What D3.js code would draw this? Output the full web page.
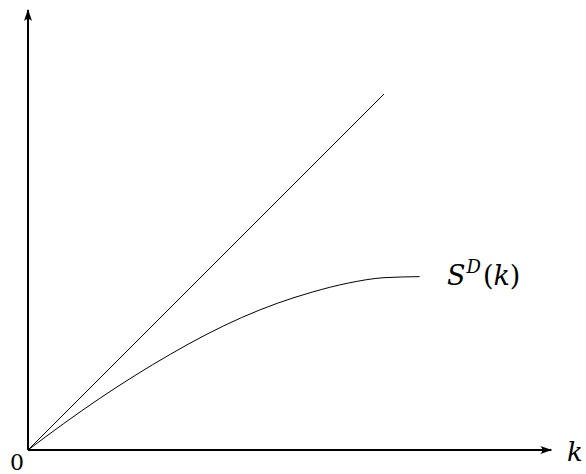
<!DOCTYPE html>
<html>
<head>
<meta charset="utf-8">
<script src="https://cdn.jsdelivr.net/npm/d3@7"></script>
<style>
  body { margin: 0; background: #fff; }
</style>
</head>
<body>
<svg id="chart" width="586" height="474"></svg>
<script>
// values (same units on both axes)
var kValues = [0, 1, 2, 3, 4, 5, 6, 7, 8, 9, 10, 11];
var sdValues = [0, 0.74, 1.44, 2.09, 2.69, 3.24, 3.72, 4.12, 4.44, 4.69, 4.84, 4.87];
var diagonal = [0, 10]; // the k = S line
var kAxisMax = 14.7,
    sAxisMax = 12.36;

var serif = "'DejaVu Serif', serif";

var svg = d3.select('#chart');

var x = d3.scaleLinear().domain([0, 10]).range([28, 384]),
    y = d3.scaleLinear().domain([0, 10]).range([450, 94]);

// arrow head, latex style
svg.append('defs').append('marker')
    .attr('id', 'arrow')
    .attr('viewBox', '0 0 12 8')
    .attr('refX', 11)
    .attr('refY', 4)
    .attr('markerWidth', 12)
    .attr('markerHeight', 8)
    .attr('markerUnits', 'userSpaceOnUse')
    .attr('orient', 'auto')
    .append('path')
    .attr('d', 'M0,0 Q4,4 0,8 L12,4 Z')
    .attr('fill', '#000');

// axes
svg.append('line')
    .attr('x1', x(0)).attr('y1', y(0))
    .attr('x2', x(kAxisMax)).attr('y2', y(0))
    .attr('stroke', '#000').attr('stroke-width', 2)
    .attr('marker-end', 'url(#arrow)');

svg.append('line')
    .attr('x1', x(0)).attr('y1', y(0))
    .attr('x2', x(0)).attr('y2', y(sAxisMax))
    .attr('stroke', '#000').attr('stroke-width', 2)
    .attr('marker-end', 'url(#arrow)');

// straight line
svg.append('line')
    .attr('x1', x(diagonal[0])).attr('y1', y(diagonal[0]))
    .attr('x2', x(diagonal[1])).attr('y2', y(diagonal[1]))
    .attr('stroke', '#000').attr('stroke-width', 1);

// S^D(k) curve
var line = d3.line()
    .x(function (d) { return x(d[0]); })
    .y(function (d) { return y(d[1]); })
    .curve(d3.curveMonotoneX);

svg.append('path')
    .datum(d3.zip(kValues, sdValues))
    .attr('d', line)
    .attr('fill', 'none')
    .attr('stroke', '#000')
    .attr('stroke-width', 1);

// labels
svg.append('text')
    .attr('x', 17).attr('y', 470)
    .attr('text-anchor', 'middle')
    .attr('font-family', serif)
    .attr('font-size', 22)
    .text('0');

svg.append('text')
    .attr('x', 567).attr('y', 461)
    .attr('font-family', serif)
    .attr('font-size', 26)
    .attr('font-style', 'italic')
    .text('k');

var sLabel = svg.append('text')
    .attr('x', 447).attr('y', 285)
    .attr('font-family', serif)
    .attr('font-size', 27);
sLabel.append('tspan').attr('font-style', 'italic').text('S');
sLabel.append('tspan').attr('dx', 1).attr('dy', -12)
    .attr('font-style', 'italic').attr('font-size', 18).text('D');
sLabel.append('tspan').attr('dx', 2).attr('dy', 12).text('(');
sLabel.append('tspan').attr('font-style', 'italic').text('k');
sLabel.append('tspan').text(')');
</script>
</body>
</html>
